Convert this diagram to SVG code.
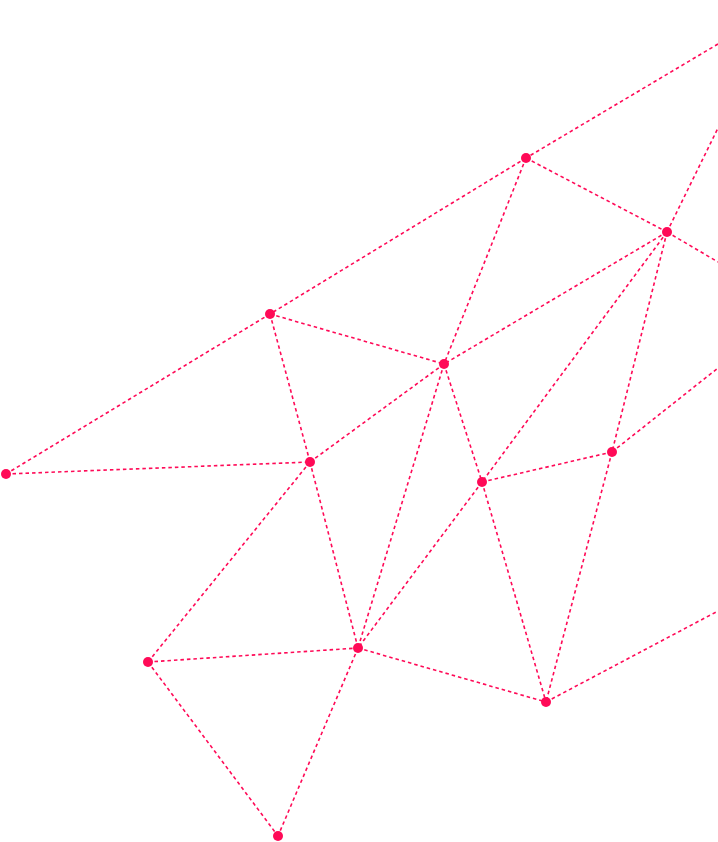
<svg xmlns="http://www.w3.org/2000/svg" width="718" height="842" viewBox="0 0 718 842">
<style>
.e{stroke:#ff0a57;stroke-width:1.6;stroke-dasharray:3.5 3;fill:none}
.n{fill:#ff0a57}
</style>
<rect width="718" height="842" fill="#ffffff"/>
<g id="connectors">
<line class="e" x1="718" y1="44" x2="526" y2="158"/>
<line class="e" x1="526" y1="158" x2="270" y2="314"/>
<line class="e" x1="526" y1="158" x2="667" y2="232"/>
<line class="e" x1="526" y1="158" x2="444" y2="364"/>
<line class="e" x1="667" y1="232" x2="718" y2="128"/>
<line class="e" x1="667" y1="232" x2="718" y2="262"/>
<line class="e" x1="667" y1="232" x2="444" y2="364"/>
<line class="e" x1="667" y1="232" x2="482" y2="482"/>
<line class="e" x1="667" y1="232" x2="612" y2="452"/>
<line class="e" x1="270" y1="314" x2="6" y2="474"/>
<line class="e" x1="270" y1="314" x2="444" y2="364"/>
<line class="e" x1="270" y1="314" x2="310" y2="462"/>
<line class="e" x1="444" y1="364" x2="310" y2="462"/>
<line class="e" x1="444" y1="364" x2="482" y2="482"/>
<line class="e" x1="444" y1="364" x2="358" y2="648"/>
<line class="e" x1="6" y1="474" x2="310" y2="462"/>
<line class="e" x1="310" y1="462" x2="148" y2="662"/>
<line class="e" x1="310" y1="462" x2="358" y2="648"/>
<line class="e" x1="482" y1="482" x2="612" y2="452"/>
<line class="e" x1="482" y1="482" x2="358" y2="648"/>
<line class="e" x1="482" y1="482" x2="546" y2="702"/>
<line class="e" x1="612" y1="452" x2="718" y2="368"/>
<line class="e" x1="612" y1="452" x2="546" y2="702"/>
<line class="e" x1="148" y1="662" x2="358" y2="648"/>
<line class="e" x1="148" y1="662" x2="278" y2="836"/>
<line class="e" x1="358" y1="648" x2="546" y2="702"/>
<line class="e" x1="358" y1="648" x2="278" y2="836"/>
<line class="e" x1="546" y1="702" x2="718" y2="611"/>
</g>
<g id="node-a"><circle class="n" cx="526" cy="158" r="5"/></g>
<g id="node-b"><circle class="n" cx="667" cy="232" r="5"/></g>
<g id="node-c"><circle class="n" cx="270" cy="314" r="5"/></g>
<g id="node-d"><circle class="n" cx="444" cy="364" r="5"/></g>
<g id="node-e"><circle class="n" cx="6" cy="474" r="5"/></g>
<g id="node-f"><circle class="n" cx="310" cy="462" r="5"/></g>
<g id="node-g"><circle class="n" cx="482" cy="482" r="5"/></g>
<g id="node-h"><circle class="n" cx="612" cy="452" r="5"/></g>
<g id="node-i"><circle class="n" cx="148" cy="662" r="5"/></g>
<g id="node-j"><circle class="n" cx="358" cy="648" r="5"/></g>
<g id="node-k"><circle class="n" cx="546" cy="702" r="5"/></g>
<g id="node-l"><circle class="n" cx="278" cy="836" r="5"/></g>
</svg>
